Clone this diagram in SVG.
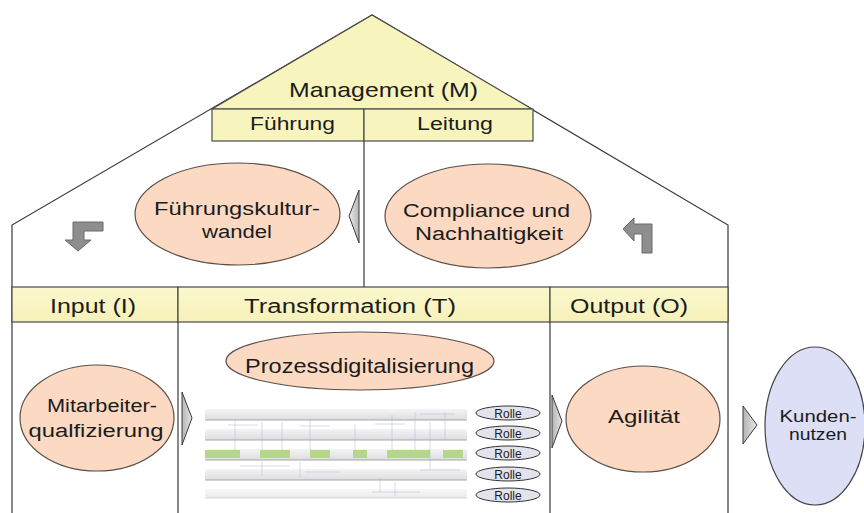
<svg xmlns="http://www.w3.org/2000/svg" width="864" height="513" viewBox="0 0 864 513">
  <defs>
    <linearGradient id="gTri" x1="0" y1="0" x2="1" y2="0">
      <stop offset="0" stop-color="#b4b4b4"/>
      <stop offset="1" stop-color="#e6e6e6"/>
    </linearGradient>
    <linearGradient id="gTriL" x1="1" y1="0" x2="0" y2="0">
      <stop offset="0" stop-color="#b4b4b4"/>
      <stop offset="1" stop-color="#ececec"/>
    </linearGradient>
    <linearGradient id="gBand" x1="0" y1="0" x2="0" y2="1">
      <stop offset="0" stop-color="#fbf8cf"/>
      <stop offset="1" stop-color="#f6f1b8"/>
    </linearGradient>
    <linearGradient id="gLane" x1="0" y1="0" x2="0" y2="1">
      <stop offset="0" stop-color="#f2f2f4"/>
      <stop offset="1" stop-color="#d6d6da"/>
    </linearGradient>
  </defs>
  <style>
    .ln { fill: none; stroke: #3a3a3a; stroke-width: 1.2; }
    .yel { fill: #f8f4bd; stroke: #4a4a4a; stroke-width: 1.2; }
    .band { fill: url(#gBand); stroke: #4a4a4a; stroke-width: 1.2; }
    .oval { fill: #fbd9c3; stroke: #5a5048; stroke-width: 1.2; }
    .blue { fill: #dcdff5; stroke: #444; stroke-width: 1.2; }
    .tri { fill: url(#gTri); stroke: #3c3c3c; stroke-width: 1; }
    .triL { fill: url(#gTriL); stroke: #3c3c3c; stroke-width: 1; }
    .bent { fill: #8e8e8e; stroke: #6a6a6a; stroke-width: 1; }
    .rolle { fill: #e3e3ee; stroke: #333; stroke-width: 1; }
    .lane { fill: url(#gLane); }
    .laneLine { stroke: #8f8f94; stroke-width: 1.2; }
    .green { fill: #a2cf6a; }
    .wire { stroke: #9aa6c2; stroke-width: 0.7; fill: none; opacity: 0.7; }
    text { font-family: "Liberation Sans", Arial, sans-serif; fill: #1c1c1c; text-anchor: middle; }
    .t21 { font-size: 21px; }
    .t20 { font-size: 20px; }
    .t18 { font-size: 18px; }
    .t16 { font-size: 16px; }
    .t12 { font-size: 12px; }
  </style>

  <rect width="864" height="513" fill="#ffffff"/>

  <!-- house outline: roof and walls -->
  <g id="house">
    <polyline class="ln" points="12,513 12,225 372,15 728,225 728,513"/>
    <line class="ln" x1="364" y1="141" x2="364" y2="287"/>
  </g>

  <!-- management gable -->
  <g id="management">
    <polygon class="yel" points="372,15 212,109 532,109"/>
    <text class="t21" x="383.5" y="97" textLength="189" lengthAdjust="spacingAndGlyphs">Management (M)</text>
  </g>
  <g id="fuehrung">
    <rect class="yel" x="212" y="109" width="152" height="32"/>
    <text class="t18" x="292.5" y="130" textLength="85" lengthAdjust="spacingAndGlyphs">Führung</text>
  </g>
  <g id="leitung">
    <rect class="yel" x="364" y="109" width="169" height="32"/>
    <text class="t18" x="455" y="130" textLength="76" lengthAdjust="spacingAndGlyphs">Leitung</text>
  </g>

  <!-- I / T / O header band -->
  <g id="input">
    <rect class="band" x="12" y="287" width="166" height="35"/>
    <line class="ln" x1="178" y1="322" x2="178" y2="513"/>
    <text class="t20" x="93" y="313" textLength="86" lengthAdjust="spacingAndGlyphs">Input (I)</text>
  </g>
  <g id="transformation">
    <rect class="band" x="178" y="287" width="372" height="35"/>
    <line class="ln" x1="550" y1="322" x2="550" y2="513"/>
    <text class="t20" x="350" y="313" textLength="212" lengthAdjust="spacingAndGlyphs">Transformation (T)</text>
  </g>
  <g id="output">
    <rect class="band" x="550" y="287" width="178" height="35"/>
    <text class="t20" x="629" y="313" textLength="118" lengthAdjust="spacingAndGlyphs">Output (O)</text>
  </g>

  <!-- topic ovals -->
  <g id="fuehrungskulturwandel">
    <ellipse class="oval" cx="237.5" cy="214" rx="102.5" ry="51"/>
    <text class="t18" x="237" y="215" textLength="166" lengthAdjust="spacingAndGlyphs">Führungskultur-</text>
    <text class="t18" x="237" y="238" textLength="70" lengthAdjust="spacingAndGlyphs">wandel</text>
  </g>
  <g id="compliance">
    <ellipse class="oval" cx="488" cy="216" rx="103" ry="52"/>
    <text class="t18" x="486.5" y="217" textLength="167" lengthAdjust="spacingAndGlyphs">Compliance und</text>
    <text class="t18" x="489" y="240" textLength="148" lengthAdjust="spacingAndGlyphs">Nachhaltigkeit</text>
  </g>
  <g id="prozessdigitalisierung">
    <ellipse class="oval" cx="360" cy="361" rx="134" ry="29"/>
    <text class="t20" x="359.5" y="373" textLength="229" lengthAdjust="spacingAndGlyphs">Prozessdigitalisierung</text>
  </g>
  <g id="mitarbeiterqualifizierung">
    <ellipse class="oval" cx="97" cy="418" rx="77" ry="53"/>
    <text class="t18" x="102" y="412" textLength="110" lengthAdjust="spacingAndGlyphs">Mitarbeiter-</text>
    <text class="t18" x="96" y="437" textLength="135" lengthAdjust="spacingAndGlyphs">qualfizierung</text>
  </g>
  <g id="agilitaet">
    <ellipse class="oval" cx="643" cy="419" rx="77" ry="53"/>
    <text class="t18" x="644" y="423" textLength="72" lengthAdjust="spacingAndGlyphs">Agilität</text>
  </g>
  <g id="kundennutzen">
    <ellipse class="blue" cx="815" cy="426" rx="50" ry="79"/>
    <text class="t16" x="818" y="422" textLength="77" lengthAdjust="spacingAndGlyphs">Kunden-</text>
    <text class="t16" x="818" y="440" textLength="58" lengthAdjust="spacingAndGlyphs">nutzen</text>
  </g>

  <!-- swimlane process chart -->
  <g id="swimlanes">
    <g opacity="0.8">
      <rect class="lane" x="205" y="409" width="262" height="11" rx="2"/>
      <rect class="lane" x="205" y="429" width="262" height="11" rx="2"/>
      <rect class="lane" x="205" y="449" width="262" height="11" rx="2"/>
      <rect class="lane" x="205" y="469" width="262" height="11" rx="2"/>
      <rect class="lane" x="205" y="489" width="262" height="9" rx="2" opacity="0.6"/>
      <line class="laneLine" x1="205" y1="420" x2="467" y2="420"/>
      <line class="laneLine" x1="205" y1="440" x2="467" y2="440"/>
      <line class="laneLine" x1="205" y1="460" x2="467" y2="460"/>
      <line class="laneLine" x1="205" y1="480" x2="467" y2="480"/>
      <line class="laneLine" x1="205" y1="498" x2="467" y2="498" opacity="0.4"/>
      <rect class="green" x="205" y="450" width="35" height="8"/>
      <rect class="green" x="260" y="450" width="30" height="8"/>
      <rect class="green" x="310" y="450" width="20" height="8"/>
      <rect class="green" x="353" y="450" width="14" height="8"/>
      <rect class="green" x="387" y="450" width="43" height="8"/>
      <rect class="green" x="443" y="450" width="20" height="8"/>
      <path class="wire" d="M235 420 V450 M262 422 V450 M282 422 V452 M310 418 V450 M355 424 V452 M392 415 V450 M415 412 V450 M430 422 V470 M445 412 V440 M262 462 V476 M300 462 V478 M380 478 V492 M395 482 V496"/>
      <path class="wire" d="M228 425 H258 M300 426 H330 M375 424 H405 M420 414 H455 M240 466 H290 M305 472 H340 M420 470 H460 M372 492 H420"/>
    </g>
    <g id="rollen">
      <ellipse class="rolle" cx="508" cy="413" rx="32" ry="7"/>
      <text class="t12" x="508" y="417.5">Rolle</text>
      <ellipse class="rolle" cx="508" cy="433" rx="32" ry="7"/>
      <text class="t12" x="508" y="437.5">Rolle</text>
      <ellipse class="rolle" cx="508" cy="453" rx="32" ry="7"/>
      <text class="t12" x="508" y="457.5">Rolle</text>
      <ellipse class="rolle" cx="508" cy="474" rx="32" ry="7"/>
      <text class="t12" x="508" y="478.5">Rolle</text>
      <ellipse class="rolle" cx="508" cy="495" rx="32" ry="7"/>
      <text class="t12" x="508" y="499.5">Rolle</text>
    </g>
  </g>

  <!-- flow connectors -->
  <g id="connectors">
    <polygon class="triL" points="359,190 349,216 359,243"/>
    <polygon class="tri" points="182,392 192,418 182,445"/>
    <polygon class="tri" points="552,395 562,421 552,448"/>
    <polygon class="tri" points="743,406 757,425 743,444"/>
    <!-- bent arrows along the roof -->
    <polygon class="bent" points="103,222 103,231 84,231 84,240 91,240 78,251 65,240 73,240 73,222"/>
    <polygon class="bent" points="623,229 634,218 634,224 652,224 652,253 642,253 642,234 634,234 634,241"/>
  </g>
</svg>
